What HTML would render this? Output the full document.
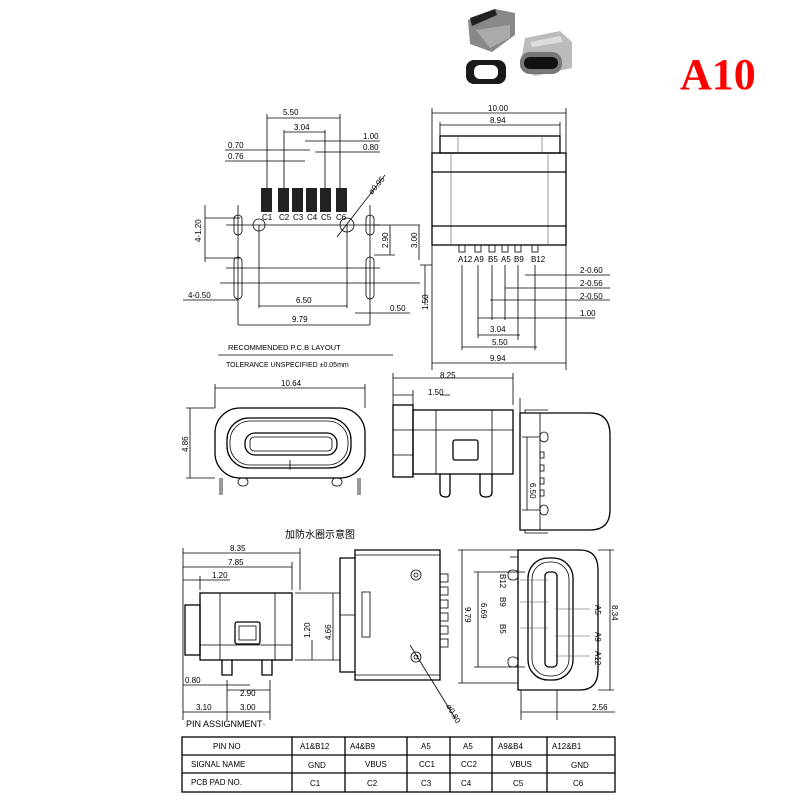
<!DOCTYPE html>
<html><head><meta charset="utf-8"><style>
body{margin:0;background:#fff}
svg{display:block}
text{font-family:"Liberation Sans","Noto Sans CJK SC",sans-serif;font-size:8px;fill:#000}
.l{stroke:#000;stroke-width:0.8;fill:none}
.t{stroke:#000;stroke-width:1.3;fill:none}
.g{stroke:#555;stroke-width:0.6;fill:none}
</style></head><body>
<svg width="800" height="800" viewBox="0 0 800 800" xmlns="http://www.w3.org/2000/svg">
<!-- photo -->
<g>
<path d="M468 20 L495 9 L515 13 L515 35 L492 52 L470 44 Z" fill="#888"/>
<path d="M470 18 L495 9 L497 15 L472 26 Z" fill="#222"/>
<path d="M476 30 L510 25 L510 38 L490 48 Z" fill="#aaa"/>
<rect x="466" y="60" width="40" height="24" rx="8" fill="#1a1a1a"/>
<rect x="474" y="65" width="24" height="14" rx="6" fill="#fff"/>
<path d="M525 38 L560 31 L572 42 L572 68 L535 76 L520 68 Z" fill="#bbb"/>
<path d="M530 42 L560 36 L563 42 L532 47 Z" fill="#ddd"/>
<rect x="520" y="52" width="42" height="22" rx="10" fill="#777"/>
<rect x="524" y="57" width="34" height="12" rx="6" fill="#111"/>
</g>
<text x="680" y="89" style="font-family:'Liberation Serif',serif;font-size:44px;font-weight:bold;fill:#f00">A10</text>

<!-- PCB layout -->
<g>
<rect x="261" y="188" width="11" height="24" fill="#222"/>
<rect x="278" y="188" width="11" height="24" fill="#222"/>
<rect x="292" y="188" width="11" height="24" fill="#222"/>
<rect x="306" y="188" width="11" height="24" fill="#222"/>
<rect x="320" y="188" width="11" height="24" fill="#222"/>
<rect x="336" y="188" width="11" height="24" fill="#222"/>
<g style="font-size:5px"><text x="262" y="220">C1</text><text x="279" y="220">C2</text><text x="293" y="220">C3</text><text x="307" y="220">C4</text><text x="321" y="220">C5</text><text x="336" y="220">C6</text></g>
<circle cx="259" cy="225" r="6" class="l"/><circle cx="347" cy="225" r="7" class="l"/>
<rect x="234" y="215" width="8" height="20" rx="4" class="l"/>
<rect x="234" y="257" width="8" height="42" rx="4" class="l"/>
<rect x="366" y="215" width="8" height="20" rx="4" class="l"/>
<rect x="366" y="257" width="8" height="42" rx="4" class="l"/>
<path class="l" d="M220 283 H420 M226 225 H380 M226 268 H380 M238 205 V325 M370 205 V325 M259 225 V308 M347 225 V308 M337 237 L385 175"/>
<path class="l" d="M267 188 V114 M340 188 V114 M284 188 V130 M325 188 V130 M267 118 H340 M284 132 H325 M225 150 H310 M225 161 H305 M305 141 H380 M315 152 H380 M259 306 H347 M238 325 H370 M183 300 H238 M355 313 H410 M374 225 H420 M374 255 H395 M390 225 V255 M419 225 V260 M205 218 H240 M205 258 H240 M205 205 V262"/>
<text x="283" y="115">5.50</text><text x="294" y="130">3.04</text>
<text x="228" y="148">0.70</text><text x="228" y="159">0.76</text>
<text x="363" y="139">1.00</text><text x="363" y="150">0.80</text>
<text x="296" y="303">6.50</text><text x="292" y="322">9.79</text>
<text x="188" y="298">4-0.50</text><text x="390" y="311">0.50</text>
<text transform="translate(201 242) rotate(-90)">4-1.20</text>
<text transform="translate(388 248) rotate(-90)">2.90</text>
<text transform="translate(417 248) rotate(-90)">3.00</text>
<text transform="translate(372 195) rotate(-50)">ø0.95</text>
<text x="228" y="350" style="font-size:7.5px">RECOMMENDED  P.C.B  LAYOUT</text>
<path class="l" d="M218 355 H393"/>
<text x="226" y="367" style="font-size:7px">TOLERANCE UNSPECIFIED ±0.05mm</text>
</g>

<!-- top right view -->
<g>
<rect x="440" y="136" width="120" height="17" class="t"/>
<rect x="432" y="153" width="134" height="92" class="t"/>
<path class="g" d="M432 172 H566 M432 226 H566 M451 153 V245 M548 153 V245 M458 136 V153 M542 136 V153"/>
<path class="t" d="M432 172 H566 M432 226 H566"/>
<g fill="none" stroke="#000" stroke-width="0.8"><rect x="459" y="245" width="6" height="7"/><rect x="475" y="245" width="6" height="7"/><rect x="489" y="245" width="6" height="7"/><rect x="502" y="245" width="6" height="7"/><rect x="515" y="245" width="6" height="7"/><rect x="532" y="245" width="6" height="7"/></g>
<g style="font-size:5px"><text x="458" y="262">A12</text><text x="474" y="262">A9</text><text x="488" y="262">B5</text><text x="501" y="262">A5</text><text x="514" y="262">B9</text><text x="531" y="262">B12</text></g>
<path class="l" d="M432 108 V370 M566 108 V370 M440 122 V136 M560 122 V136 M432 113 H566 M440 125 H560"/>
<path class="l" d="M462 265 V350 M478 265 V338 M492 265 V320 M505 265 V320 M518 265 V340 M535 265 V350 M525 275 H610 M505 288 H610 M490 300 H610 M478 318 H595 M478 335 H520 M462 347 H537 M432 363 H566"/>
<text x="488" y="111">10.00</text><text x="490" y="123">8.94</text>
<text x="580" y="273">2-0.60</text><text x="580" y="286">2-0.56</text><text x="580" y="299">2-0.50</text><text x="580" y="316">1.00</text>
<text x="490" y="332">3.04</text><text x="492" y="345">5.50</text><text x="490" y="361">9.94</text>
<path class="l" d="M425 265 V305 M420 265 H432"/>
<text transform="translate(428 310) rotate(-90)">1.50</text>
</g>

<!-- front view -->
<g>
<rect x="215" y="408" width="150" height="70" rx="25" class="t"/>
<rect x="227" y="418" width="124" height="50" rx="22" class="t"/>
<rect x="230" y="421" width="118" height="44" rx="20" class="l"/>
<rect x="245" y="433" width="92" height="22" rx="10" class="t"/>
<rect x="250" y="437" width="82" height="14" rx="4" class="l"/>
<path class="l" d="M290 460 V470 M215 388 H365 M215 384 V408 M365 384 V408 M190 408 V478 M186 408 H215 M186 478 H215"/>
<path class="l" d="M220 478 V495 M222 478 V495 M358 478 V495 M360 478 V495"/>
<rect x="238" y="478" width="10" height="8" rx="4" class="l"/><rect x="332" y="478" width="10" height="8" rx="4" class="l"/>
<text x="281" y="386">10.64</text>
<text transform="translate(188 452) rotate(-90)">4.86</text>
<text x="285" y="538" style="font-size:10px">加防水圈示意图</text>
</g>

<!-- side view -->
<g>
<rect x="393" y="405" width="20" height="72" class="t"/>
<rect x="413" y="410" width="100" height="64" class="t"/>
<path class="l" d="M393 430 H413 M393 455 H413 M413 430 H513 M436 410 V474 M492 410 V474 M393 378 H513 M393 373 V405 M513 373 V405 M393 395 H413 M413 390 V405 M440 395 H450"/>
<rect x="453" y="440" width="25" height="20" rx="2" class="t"/>
<path class="t" d="M440 474 V492 Q440 497 446 497 Q450 497 450 492 V474 M480 474 V492 Q480 497 486 497 Q492 497 492 492 V474"/>
<text x="440" y="378">8.25</text><text x="428" y="395">1.50</text>
</g>

<!-- right side view -->
<g>
<path class="t" d="M520 413 H590 Q610 413 610 435 V510 Q610 530 590 530 H520 Z"/>
<path class="l" d="M540 413 V530 M525 413 V410 H548 M525 530 V533 H548 M527 437 V510 M522 437 H540 M522 510 H540 M520 398 V413"/>
<g class="l"><rect x="540" y="432" width="8" height="10" rx="4"/><rect x="540" y="505" width="8" height="10" rx="4"/><rect x="540" y="452" width="4" height="6"/><rect x="540" y="465" width="4" height="6"/><rect x="540" y="478" width="4" height="6"/><rect x="540" y="490" width="4" height="6"/></g>
<text transform="translate(530 483) rotate(90)">6.50</text>
</g>

<!-- bottom left -->
<g>
<rect x="200" y="593" width="92" height="67" class="t"/>
<rect x="185" y="605" width="15" height="50" class="t"/>
<path class="l" d="M220 593 V660 M275 593 V660 M200 645 H292"/>
<rect x="235" y="622" width="25" height="22" rx="2" class="t"/>
<rect x="239" y="626" width="17" height="14" class="l"/>
<path class="t" d="M222 660 V675 H232 V660 M262 660 V675 H272 V660"/>
<path class="l" d="M183 548 V720 M300 548 V590 M292 562 V590 M200 576 V590 M183 553 H300 M183 567 H292 M183 580 H230 M295 593 H340 M295 660 H340 M333 593 V660 M312 640 V660 M183 685 H250 M227 690 H270 M227 680 V720 M270 680 V720 M183 712 H270"/>
<text x="230" y="551">8.35</text><text x="228" y="565">7.85</text><text x="212" y="578">1.20</text>
<text transform="translate(331 640) rotate(-90)">4.66</text><text transform="translate(310 638) rotate(-90)">1.20</text>
<text x="185" y="683">0.80</text><text x="240" y="696">2.90</text><text x="196" y="710">3.10</text><text x="240" y="710">3.00</text>
<text x="186" y="727" style="font-size:9px">PIN ASSIGNMENT·</text>
</g>

<!-- bottom middle -->
<g>
<path class="t" d="M355 550 H440 V680 H355 Z M340 558 H355 V672 H340 Z"/>
<path class="l" d="M340 615 H355 M355 555 H440 M355 675 H440"/>
<rect x="362" y="592" width="8" height="45" class="l"/>
<circle cx="416" cy="575" r="5" class="l"/><circle cx="416" cy="575" r="2" class="l"/>
<circle cx="416" cy="657" r="5" class="l"/><circle cx="416" cy="657" r="2" class="l"/>
<g class="l"><rect x="440" y="574" width="8" height="8"/><rect x="440" y="587" width="8" height="8"/><rect x="440" y="600" width="8" height="8"/><rect x="440" y="613" width="8" height="8"/><rect x="440" y="626" width="8" height="8"/><rect x="440" y="639" width="8" height="8"/></g>
<path class="l" d="M410 645 L455 718"/>
<text transform="translate(446 706) rotate(60)">ø0.80</text>
</g>

<!-- bottom right -->
<g>
<path class="t" d="M518 550 H580 Q598 550 598 570 V670 Q598 690 580 690 H518 Z"/>
<rect x="528" y="558" width="45" height="122" rx="20" class="t"/>
<rect x="532" y="562" width="37" height="114" rx="17" class="l"/>
<rect x="545" y="572" width="12" height="95" rx="4" class="t"/>
<path class="l" d="M462 550 V683 M458 550 H518 M458 683 H518 M478 572 V667 M474 572 H525 M474 667 H525 M610 550 V690 M598 550 H614 M598 690 H614 M521 690 V720 M557 690 V720 M521 712 H615 M510 557 H518 M510 683 H518"/>
<rect x="508" y="570" width="10" height="10" rx="4" class="l"/><rect x="508" y="657" width="10" height="10" rx="4" class="l"/>
<path class="g" d="M520 580 H548 M520 602 H548 M520 628 H548 M555 609 H590 M555 636 H590 M555 656 H590"/>
<text transform="translate(465 607) rotate(90)">9.79</text><text transform="translate(481 603) rotate(90)">6.69</text>
<text transform="translate(612 605) rotate(90)">8.34</text>
<g style="font-size:6px"><text transform="translate(500 574) rotate(90)">B12</text><text transform="translate(500 597) rotate(90)">B9</text><text transform="translate(500 624) rotate(90)">B5</text><text transform="translate(595 605) rotate(90)">A5</text><text transform="translate(595 632) rotate(90)">A9</text><text transform="translate(595 651) rotate(90)">A12</text></g>
<text x="592" y="710">2.56</text>
</g>

<!-- table -->
<g>
<rect x="182" y="737" width="433" height="55" class="t"/>
<path class="t" d="M182 755 H615 M182 773 H615 M292 737 V792 M345 737 V792 M407 737 V792 M450 737 V792 M492 737 V792 M547 737 V792"/>
<g style="font-size:8.5px">
<text x="213" y="749">PIN NO</text><text x="300" y="749">A1&amp;B12</text><text x="350" y="749">A4&amp;B9</text><text x="421" y="749">A5</text><text x="463" y="749">A5</text><text x="498" y="749">A9&amp;B4</text><text x="552" y="749">A12&amp;B1</text>
<text x="191" y="767">SIGNAL NAME</text><text x="308" y="768">GND</text><text x="365" y="767">VBUS</text><text x="419" y="767">CC1</text><text x="461" y="767">CC2</text><text x="510" y="767">VBUS</text><text x="571" y="768">GND</text>
<text x="191" y="785">PCB PAD NO.</text><text x="310" y="786">C1</text><text x="367" y="786">C2</text><text x="421" y="786">C3</text><text x="461" y="786">C4</text><text x="513" y="786">C5</text><text x="573" y="786">C6</text>
</g>
</g>
</svg>
</body></html>
